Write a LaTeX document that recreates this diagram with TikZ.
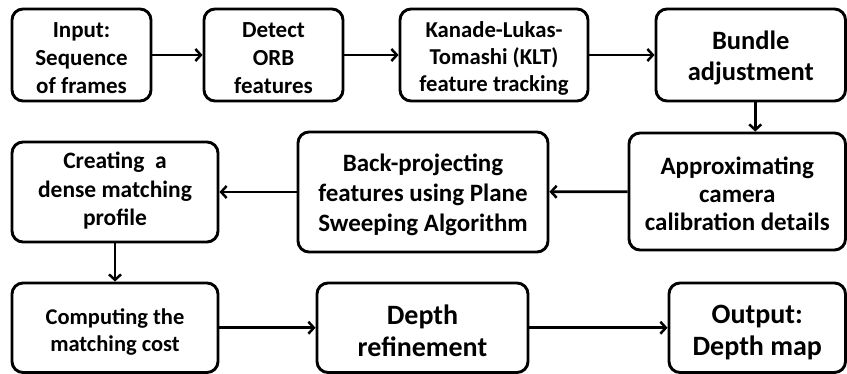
\documentclass[tikz,border=0pt]{standalone}
\usepackage{fontspec}
\setmainfont{Carlito}
\usetikzlibrary{arrows.meta}
\tikzset{
  box/.style={draw, line width=2.9pt, rounded corners=11pt, inner sep=0pt, fill=white},
  txt/.style={align=center, inner sep=0pt},
  arr/.style={line width=2.7pt, -{Straight Barb[length=5.5pt,width=12pt,line width=2.5pt]}},
  fin/.style={font=\bfseries\fontsize{23}{28}\selectfont},
  fklt/.style={font=\bfseries\fontsize{22.7}{27}\selectfont},
  fbig/.style={font=\bfseries\fontsize{26.5}{31}\selectfont},
  fapp/.style={font=\bfseries\fontsize{25}{28}\selectfont},
  fback/.style={font=\bfseries\fontsize{25}{30}\selectfont},
  fcre/.style={font=\bfseries\fontsize{23.5}{28.5}\selectfont},
  fcomp/.style={font=\bfseries\fontsize{22.5}{27.5}\selectfont},
  fout/.style={font=\bfseries\fontsize{28}{32}\selectfont},
}
\newcommand{\bx}[8]{%
  \node[box,minimum width={#4-#2},minimum height={#5-#3}] (#1) at ({(#2+#4)/2},{(#3+#5)/2}) {};
  \node[txt,#7] (#1-t) at ([yshift=-#8pt]#1.center) {#6};}
\begin{document}
\begin{tikzpicture}[x=1pt,y=-1pt]
\useasboundingbox (0,0) rectangle (847,374);
\bx{input}{12}{9}{151}{101}{Input:\\Sequence\\of frames}{fin}{3}
\bx{detect}{204}{9}{343}{101}{Detect\\ORB\\features}{fin}{3}
\bx{klt}{400}{9}{588}{101}{Kanade-Lukas-\\Tomashi (KLT)\\feature tracking}{fklt}{3}
\bx{bundle}{656}{9}{845.5}{101}{Bundle\\adjustment}{fbig}{3}
\bx{approx}{629}{133}{845.5}{250}{Approximating\\camera\\calibration details}{fapp}{2}
\bx{back}{298}{132}{548}{252}{Back-projecting\\features using Plane\\Sweeping Algorithm}{fback}{2.5}
\bx{create}{12}{142}{218}{242}{Creating~ a\\dense matching\\profile}{fcre}{-1}
\bx{compute}{12}{283}{218}{372.5}{Computing the\\matching cost}{fcomp}{4}
\bx{depth}{317}{283}{528}{372.5}{Depth\\refinement}{fout}{3}
\bx{output}{669}{283}{845.5}{372.5}{Output:\\Depth map}{fout}{5}
\draw[arr] (input) -- (detect);
\draw[arr] (detect) -- (klt);
\draw[arr] (klt) -- (bundle);
\draw[arr] ([xshift=4.5pt]bundle.south) -- ([xshift=4.5pt]bundle.south |- approx.north);
\draw[arr] (approx) -- (back);
\draw[arr] (back) -- (create);
\draw[arr] (create) -- (compute);
\draw[arr] (compute) -- (depth);
\draw[arr] (depth) -- (output);
\end{tikzpicture}
\end{document}
